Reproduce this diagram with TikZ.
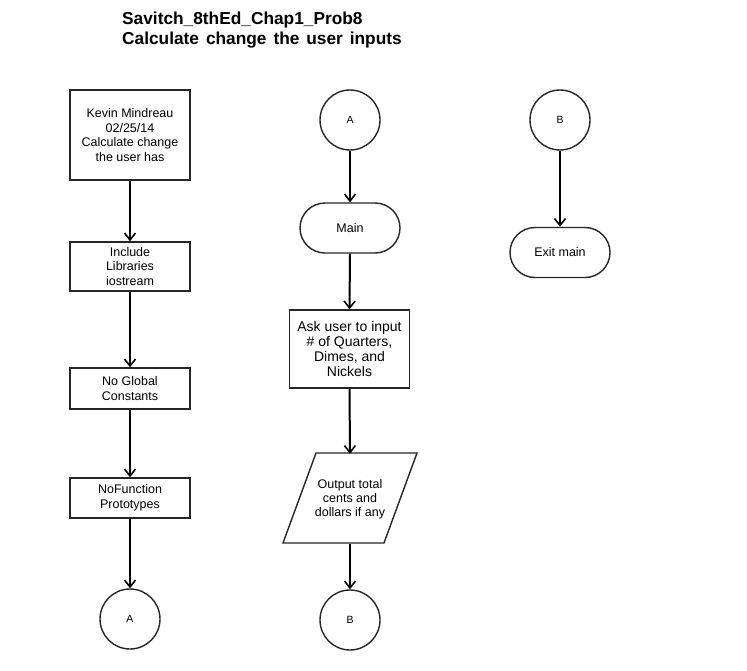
\documentclass[tikz,border=0pt]{standalone}
\usepackage{fontspec}
\setmainfont{Liberation Sans}
\usetikzlibrary{arrows.meta}
\begin{document}
\begin{tikzpicture}[x=1pt,y=-1pt,
  box/.style={draw=black!85,line width=1.4pt,align=center,inner sep=0pt,font=\fontsize{12.5}{14.7}\selectfont},
  term/.style={box,rounded corners=25pt,minimum width=100pt,minimum height=50pt},
  conn/.style={draw=black!85,line width=1.4pt,circle,minimum size=60pt,inner sep=0pt,font=\fontsize{10.5}{12}\selectfont},
  flow/.style={line width=2pt,-{Straight Barb[length=7pt,width=11pt,line width=1.6pt]}}]
\useasboundingbox (0,0) rectangle (747,670);
\fill[white] (0,0) rectangle (747,670);
% title
\node[anchor=north west,align=left,inner sep=0pt,font=\bfseries\fontsize{17.3}{20}\selectfont] (title) at (122,11.5)
  {Savitch\_8thEd\_Chap1\_Prob8\\{\spaceskip=0.4em Calculate change the user inputs}};
% left column
\node[box,minimum width=120pt,minimum height=90pt] (kev) at (130,135)
  {Kevin Mindreau\\02/25/14\\Calculate change\\the user has};
\node[box,minimum width=120pt,minimum height=49pt] (inc) at (130,266.5)
  {Include\\Libraries\\iostream};
\node[box,minimum width=120pt,minimum height=41pt] (glob) at (130,388.5)
  {No Global\\Constants};
\node[box,minimum width=120pt,minimum height=40pt] (proto) at (130,498)
  {NoFunction\\Prototypes};
\node[conn] (a1) at (130,619) {A};
\draw[flow] (kev.south) -- (inc.north);
\draw[flow] (inc.south) -- (glob.north);
\draw[flow] (glob.south) -- (proto.north);
\draw[flow] (proto.south) -- (a1.north);
% middle column
\node[conn] (a2) at (350,120) {A};
\node[term] (main) at (350,228) {Main};
\node[box,minimum width=120pt,minimum height=78pt,font=\fontsize{14}{14.7}\selectfont] (ask) at (349.5,349)
  {Ask user to input\\\# of Quarters,\\Dimes, and\\Nickels};
\draw[draw=black!85,line width=1.4pt] (316,453) -- (417,453) -- (384,543) -- (283,543) -- cycle;
\node[inner sep=0pt,minimum width=100pt,minimum height=90pt,align=center,font=\fontsize{12.5}{14}\selectfont] (out) at (350,499)
  {Output total\\cents and\\dollars if any};
\node[conn] (b1) at (350,620) {B};
\draw[flow] (a2.south) -- (main.north);
\draw[flow] (main.south) -- (ask.north);
\draw[flow] (ask.south) -- (out.north);
\draw[flow] (out.south) -- (b1.north);
% right column
\node[conn] (b2) at (560,120) {B};
\node[term] (exit) at (560,252.5) {Exit main};
\draw[flow] (b2.south) -- (exit.north);
\end{tikzpicture}
\end{document}
